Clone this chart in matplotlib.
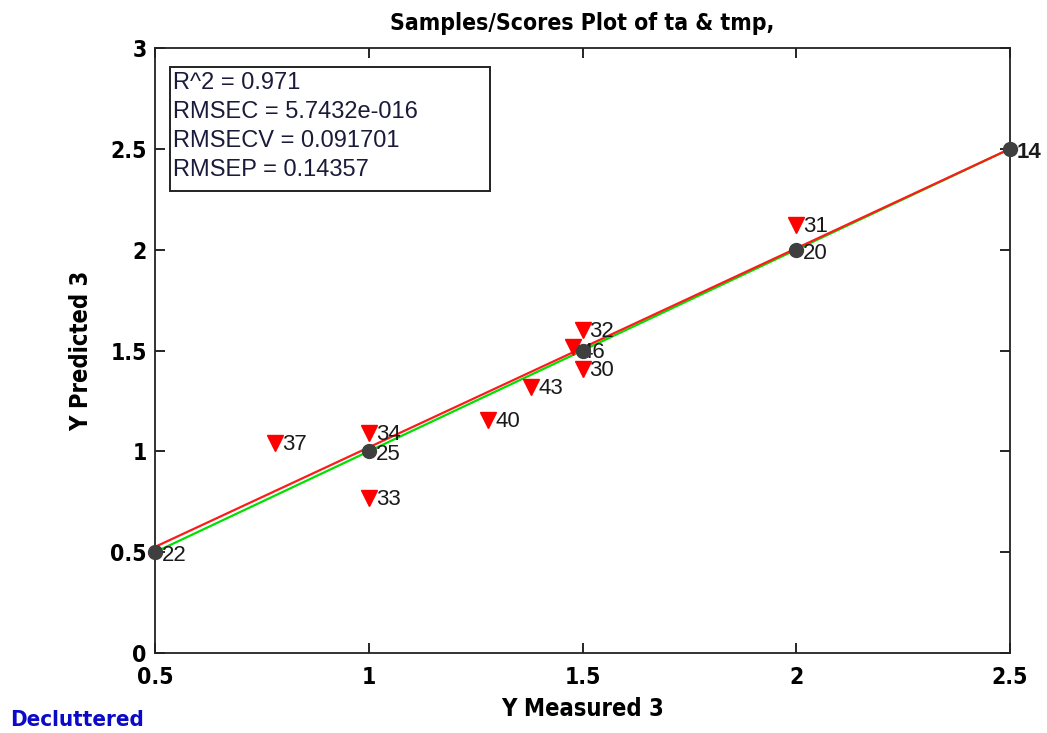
import matplotlib
matplotlib.use("Agg")
import matplotlib.pyplot as plt
from matplotlib import font_manager
from matplotlib.patches import Rectangle

# Calibration samples (y measured vs y predicted); empty id = label decluttered
cal_ids = ["22", "25", "", "20", "14"]
cal_meas = [0.5, 1.0, 1.5, 2.0, 2.5]
cal_pred = [0.5, 1.0, 1.5, 2.0, 2.5]

# Validation samples
val_ids = ["37", "34", "33", "40", "43", "46", "32", "30", "31"]
val_meas = [0.78, 1.00, 1.00, 1.28, 1.38, 1.478, 1.50, 1.50, 2.00]
val_pred = [1.04, 1.09, 0.77, 1.155, 1.32, 1.515, 1.60, 1.41, 2.12]

# Fit lines: (value at x=0.5, slope)
red_line = (0.526, 0.987)
green_line = (0.5, 1.0)
line_x = [0.5, 2.5]

stats_lines = ["R^2 = 0.971", "RMSEC = 5.7432e-016",
               "RMSECV = 0.091701", "RMSEP = 0.14357"]

xticks = [0.5, 1, 1.5, 2, 2.5]
xtick_labels = ["0.5", "1", "1.5", "2", "2.5"]
yticks = [0, 0.5, 1, 1.5, 2, 2.5, 3]
ytick_labels = ["0", "0.5", "1", "1.5", "2", "2.5", "3"]

available = {f.name for f in font_manager.fontManager.ttflist}
narrow = "Liberation Sans Narrow" if "Liberation Sans Narrow" in available else "DejaVu Sans"
plain = "Liberation Sans" if "Liberation Sans" in available else "DejaVu Sans"
narrow_kw = dict(family=narrow, weight="bold")
if narrow == "DejaVu Sans":
    narrow_kw["stretch"] = "condensed"

W, H = 1047, 733
fig = plt.figure(figsize=(W / 100, H / 100), dpi=100)
ax = fig.add_axes([155 / W, 1 - 653 / H, (1010 - 155) / W, (653 - 48) / H])
ax.set_xlim(0.5, 2.5)
ax.set_ylim(0, 3)

for spine in ax.spines.values():
    spine.set_linewidth(1.3)
    spine.set_color("#222222")

ax.set_xticks(xticks)
ax.set_xticklabels(xtick_labels)
ax.set_yticks(yticks)
ax.set_yticklabels(ytick_labels)
ax.tick_params(direction="in", length=7, width=1.2, top=True, right=True,
               labelsize=16.5)
ax.tick_params(axis="x", pad=9)
ax.tick_params(axis="y", pad=6)
for lab in ax.get_xticklabels() + ax.get_yticklabels():
    lab.set_fontfamily(narrow)
    lab.set_fontweight("bold")
    if narrow == "DejaVu Sans":
        lab.set_fontstretch("condensed")

# Fit lines
ax.plot(line_x, [green_line[0] + green_line[1] * (x - 0.5) for x in line_x],
        color="#00e000", lw=1.6, zorder=2)
ax.plot(line_x, [red_line[0] + red_line[1] * (x - 0.5) for x in line_x],
        color="#ff1a1a", lw=1.6, zorder=2)

# Markers
ax.plot(cal_meas, cal_pred, "o", color="#3f3f3f", ms=10, mec="#3f3f3f",
        zorder=3, clip_on=False)
ax.plot(val_meas, val_pred, "v", color="#ff0000", ms=12, mec="#ff0000",
        zorder=2.5, clip_on=False)

# Sample labels
for sid, x, y in zip(cal_ids, cal_meas, cal_pred):
    if not sid:
        continue
    bold = sid == "14"
    ax.annotate(sid, (x, y), xytext=(5, -2.5), textcoords="offset points",
                va="center", ha="left", fontsize=16, family=plain,
                weight="bold" if bold else "normal", color="#1a1a1a",
                zorder=5, annotation_clip=False)
for sid, x, y in zip(val_ids, val_meas, val_pred):
    dy = -3.5 if sid == "46" else -1
    ax.annotate(sid, (x, y), xytext=(5, dy), textcoords="offset points",
                va="center", ha="left", fontsize=16, family=plain,
                color="#1a1a1a", zorder=2.8)

# Statistics box
def ax_frac(px, py):
    return (px - 155) / 855, (653 - py) / 605

bx0, by0 = ax_frac(170, 191)
bx1, by1 = ax_frac(490, 67)
ax.add_patch(Rectangle((bx0, by0), bx1 - bx0, by1 - by0, transform=ax.transAxes,
                       facecolor="white", edgecolor="#222222", lw=1.4, zorder=6))
for i, line in enumerate(stats_lines):
    tx, ty = ax_frac(173, 83 + i * 29)
    ax.text(tx, ty, line, transform=ax.transAxes, fontsize=17, family=plain,
            va="center", ha="left", color="#1a1a3a", zorder=7)

ax.set_title("Samples/Scores Plot of ta & tmp,", fontsize=16.5, pad=13, **narrow_kw)
ax.set_xlabel("Y Measured 3", fontsize=17, labelpad=6, **narrow_kw)
ax.set_ylabel("Y Predicted 3", fontsize=17, labelpad=12, **narrow_kw)

fig.text(10 / W, 1 - 720 / H, "Decluttered", color="#0a0ac8", fontsize=16,
         va="center", ha="left", **narrow_kw)

fig.savefig("out.png", dpi=100, facecolor="white")
